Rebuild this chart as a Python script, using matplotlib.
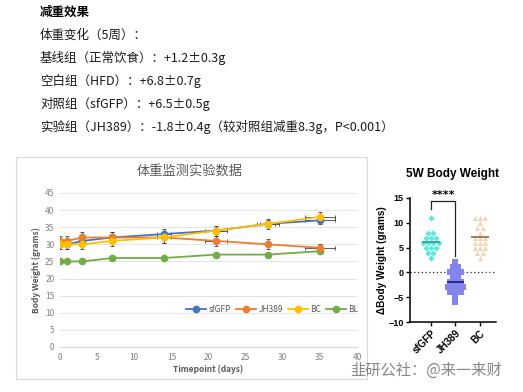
import matplotlib.pyplot as plt
import matplotlib.patches as mpatches
from matplotlib.lines import Line2D
import numpy as np

# ---- data ----
days = [0, 1, 3, 7, 14, 21, 28, 35]
sfgfp = [30, 30, 31, 32, 33, 34, 36, 37]
jh389 = [31, 31, 32, 32, 32, 31, 30, 29]
bc = [30, 30, 30, 31, 32, 34, 36, 38]
bl = [25, 25, 25, 26, 26, 27, 27, 28]
sfgfp_yerr = [1.5, 1.5, 1.5, 1.5, 1.5, 1.5, 1.0, 1.2]
jh389_yerr = [1.5, 1.5, 1.5, 1.5, 1.5, 1.5, 1.5, 1.2]
bc_yerr = [1.5, 1.5, 1.5, 1.5, 1.5, 1.5, 1.5, 1.5]
sfgfp_xerr = [0, 0, 0, 0, 1.0, 0, 1.0, 2.0]
jh389_xerr = [0, 0, 0, 0, 0, 1.5, 0, 2.0]
bc_xerr = [0, 0, 0, 0, 1.0, 1.5, 1.5, 2.0]

groups = ["sfGFP", "JH389", "BC"]
sfgfp_delta = [11, 8, 8, 7, 7, 7, 6, 6, 6, 6, 5, 5, 5, 4, 4, 3]
jh389_delta = [2, 1, 1, 0, 0, 0, -1, -1, -2, -2, -2, -3, -3, -3, -3, -4, -4, -4, -5, -6]
bc_delta = [11, 11, 11, 10, 9, 9, 8, 7, 7, 7, 6, 6, 6, 5, 5, 5, 4, 4, 3]

summary_lines = [
    "体重变化（5周）：",
    "基线组（正常饮食）：+1.2±0.3g",
    "空白组（HFD）：+6.8±0.7g",
    "对照组（sfGFP）：+6.5±0.5g",
    "实验组（JH389）：-1.8±0.4g（较对照组减重8.3g，P<0.001）",
]

plt.rcParams['font.family'] = ['Noto Sans CJK SC', 'DejaVu Sans']

W, H = 523, 392
fig = plt.figure(figsize=(W / 100, H / 100), dpi=100)

# ---- text block at top ----
fig.text(40 / W, 1 - 12.5 / H, "减重效果", fontsize=9, fontweight='bold', va='center')
for i, line in enumerate(summary_lines):
    fig.text(40 / W, 1 - (35 + i * 23) / H, line, fontsize=9, va='center', color='#1a1a1a')

# ---- line chart panel ----
fig.patches.append(mpatches.Rectangle((16 / W, 13 / H), 351 / W, 222 / H, transform=fig.transFigure,
                                      fill=False, edgecolor='#d9d9d9', linewidth=0.8))
fig.text(190 / W, 1 - 171 / H, "体重监测实验数据", fontsize=9.5, color='#595959', ha='center', va='center')

ax = fig.add_axes([60 / W, 45 / H, 297 / W, 154 / H])
series = [
    ("sfGFP", sfgfp, sfgfp_yerr, sfgfp_xerr, '#4472C4'),
    ("JH389", jh389, jh389_yerr, jh389_xerr, '#ED7D31'),
    ("BC", bc, bc_yerr, bc_xerr, '#FFC000'),
]
handles = []
for name, vals, yerr, xerr, col in series:
    ax.errorbar(days, vals, yerr=yerr, xerr=xerr, color=col, marker='o', markersize=4.5,
                linewidth=1.3, ecolor='#404040', elinewidth=0.6, capsize=1.5, capthick=0.6)
    handles.append(Line2D([], [], color=col, marker='o', markersize=4.5, linewidth=1.3, label=name))
ax.plot(days, bl, color='#70AD47', marker='o', markersize=4.5, linewidth=1.3)
handles.append(Line2D([], [], color='#70AD47', marker='o', markersize=4.5, linewidth=1.3, label="BL"))

ax.set_xlim(0, 40)
ax.set_ylim(0, 45)
ax.set_xticks(range(0, 41, 5))
ax.set_yticks(range(0, 46, 5))
ax.grid(axis='y', color='#e0e0e0', linewidth=0.6)
ax.set_axisbelow(True)
for s in ['top', 'right', 'left']:
    ax.spines[s].set_visible(False)
ax.spines['bottom'].set_color('#d9d9d9')
ax.tick_params(length=0, labelsize=6, colors='#808080', pad=4)
ax.set_xlabel("Timepoint (days)", fontsize=6, fontweight='bold', color='#595959', labelpad=2)
ax.set_ylabel("Body Weight (grams)", fontsize=6, fontweight='bold', color='#595959', labelpad=3)
leg = ax.legend(handles=handles, ncol=4, frameon=False, fontsize=6, loc='center',
                bbox_to_anchor=(0.715, 0.245), handlelength=2.4,
                columnspacing=0.6, handletextpad=0.3)
for t in leg.get_texts():
    t.set_color('#595959')

# ---- dot plot ----
ax2 = fig.add_axes([410 / W, 70 / H, 86 / W, 124 / H])
dot_styles = [
    (sfgfp_delta, '#5CE8E0', 'D', '#2a9d8f', 10),
    (jh389_delta, '#8484EE', 's', '#1a1a6e', 14),
    (bc_delta, '#F6D2AE', '^', '#8B6B4A', 13),
]
step = 0.21
for gi, (vals, col, mk, mcol, msize) in enumerate(dot_styles):
    vals = np.array(vals)
    for v in np.unique(vals):
        n = int((vals == v).sum())
        xs = gi + (np.arange(n) - (n - 1) / 2) * step
        ax2.scatter(xs, [v] * n, s=msize, marker=mk, color=col, linewidths=0, zorder=3)
    ax2.hlines(vals.mean(), gi - 0.36, gi + 0.36, color=mcol, linewidth=1.2, zorder=4)

ax2.axhline(0, color='#222222', linestyle=(0, (1, 2)), linewidth=0.9, zorder=1)
ax2.plot([0, 0, 1, 1], [12.7, 14.4, 14.4, 3.3], color='#222222', linewidth=0.9)
ax2.text(0.5, 14.6, "****", ha='center', va='bottom', fontsize=8, fontweight='bold',
         family='DejaVu Sans')

ax2.set_xlim(-0.85, 2.65)
ax2.set_ylim(-10, 15)
ax2.set_yticks([-10, -5, 0, 5, 10, 15])
ax2.set_xticks(range(3))
ax2.set_xticklabels(groups, rotation=45, ha='right', rotation_mode='anchor', fontweight='bold',
                    family='Liberation Sans', fontsize=7)
for lab in ax2.get_yticklabels():
    lab.set_fontweight('bold')
    lab.set_family('Liberation Sans')
    lab.set_fontsize(6.5)
ax2.tick_params(width=1, length=3, pad=1.5)
ax2.spines['top'].set_visible(False)
ax2.spines['right'].set_visible(False)
ax2.spines['left'].set_linewidth(1.1)
ax2.spines['bottom'].set_linewidth(1.1)
ax2.set_ylabel("ΔBody Weight (grams)", fontsize=7.2, fontweight='bold', family='Liberation Sans', labelpad=1)
ax2.set_title("5W Body Weight", fontsize=8.5, fontweight='bold', family='Liberation Sans', pad=15)

# ---- watermark ----
fig.text(426 / W, 1 - 370 / H, "韭研公社：@来一来财", fontsize=11, color='#7a7a7a', ha='center',
         va='center', alpha=0.9)

fig.savefig("out.png", dpi=100)
